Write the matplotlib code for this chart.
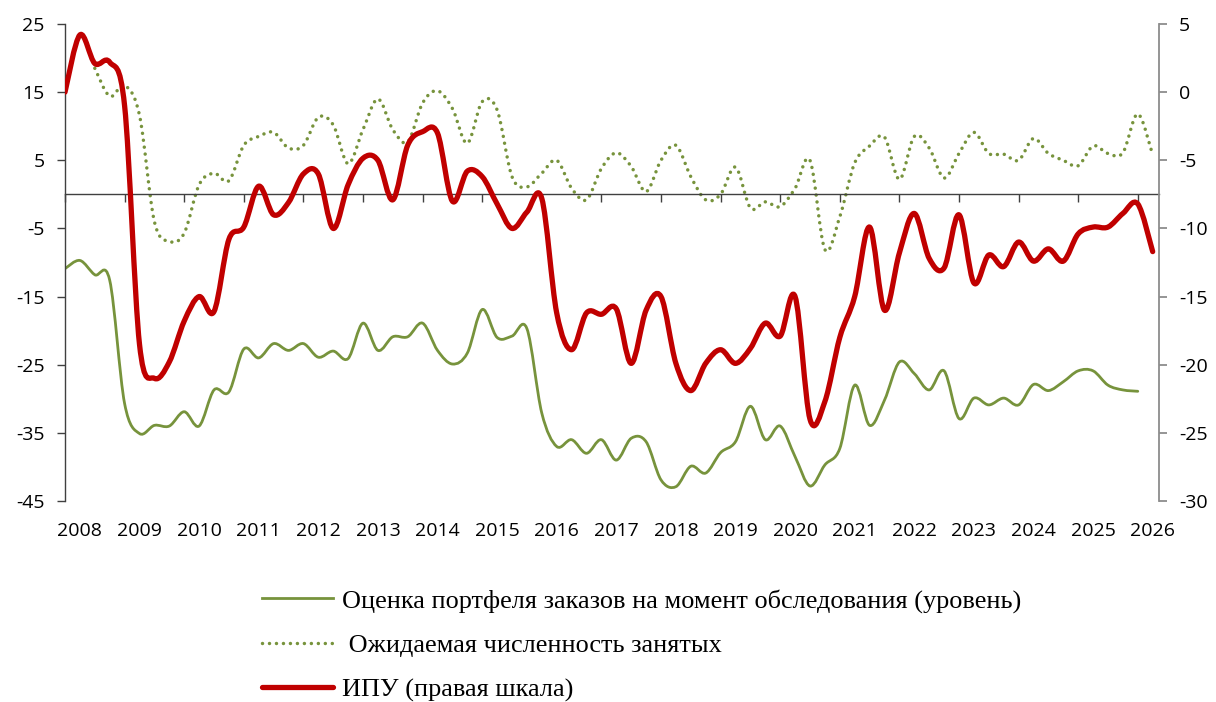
import numpy as np
import matplotlib
matplotlib.use("Agg")
import matplotlib.pyplot as plt
from matplotlib.path import Path
from matplotlib.patches import PathPatch
from matplotlib.lines import Line2D

plt.rcParams['font.family'] = ['Open Sans', 'DejaVu Sans']
plt.rcParams['axes.unicode_minus'] = False

# quarterly readings, first value = 2008 Q1
start_year = 2008.0
step = 0.25

# order book assessment (level), left axis
orders = [-10.9, -9.7, -11.8, -12.6, -30.7, -35.1, -33.9, -34.0, -31.9, -34.0,
          -28.7, -29.0, -22.7, -24.0, -21.9, -22.9, -21.9, -23.9, -23.0, -24.1,
          -18.9, -22.9, -20.9, -20.9, -18.9, -22.9, -24.9, -23.3, -16.9, -21.0,
          -20.8, -19.7, -32.1, -37.0, -36.0, -38.0, -36.0, -39.0, -35.8, -36.3,
          -41.9, -42.9, -39.9, -40.9, -37.9, -36.3, -31.1, -36.0, -34.0, -38.5,
          -42.8, -39.7, -37.3, -28.0, -33.9, -30.2, -24.6, -26.3, -28.7, -25.9,
          -32.9, -29.9, -30.9, -29.9, -30.9, -27.9, -28.8, -27.5, -25.9, -25.9,
          -28.0, -28.7, -28.9]

# expected employment, left axis (series starts at 2008 Q3)
employment_start = 2
employment = [18.5, 14.4, 16.0, 11.6, -4.0, -6.9, -5.7, 1.4, 3.1, 2.0,
              7.2, 8.5, 9.1, 6.8, 7.2, 11.3, 10.2, 4.5, 9.5, 14.0,
              9.5, 7.7, 13.4, 15.2, 12.6, 7.5, 13.6, 12.4, 2.6, 1.1,
              3.1, 5.0, 0.9, -0.8, 3.8, 6.1, 4.1, 0.4, 5.0, 7.2,
              2.6, -0.8, 0.0, 4.0, -2.0, -1.1, -1.8, 0.9, 5.0, -8.1,
              -3.3, 4.6, 7.1, 8.4, 2.2, 8.5, 6.8, 2.4, 6.0, 9.1,
              6.0, 5.9, 5.0, 8.2, 6.0, 5.0, 4.2, 7.1, 6.0, 6.1,
              11.8, 5.8]

# industrial production index, right axis
ipu = [0.0, 4.2, 2.1, 2.2, -1.0, -18.5, -21.0, -19.8, -16.8, -15.0,
       -16.1, -10.8, -9.9, -6.9, -9.0, -8.1, -6.0, -6.0, -10.0, -6.8,
       -4.85, -5.0, -7.9, -3.9, -2.9, -3.0, -8.0, -5.8, -6.2, -8.2,
       -10.0, -8.8, -7.8, -16.2, -18.9, -16.2, -16.3, -15.9, -19.9, -16.0,
       -15.0, -19.9, -21.9, -19.9, -18.9, -19.9, -18.8, -16.95, -17.9, -15.0,
       -24.0, -22.7, -18.0, -15.0, -9.9, -16.0, -11.8, -8.9, -12.2, -12.9,
       -9.0, -14.0, -11.95, -12.8, -11.0, -12.4, -11.5, -12.4, -10.4, -9.9,
       -9.9, -8.9, -8.2, -11.7]

years = list(range(2008, 2027))

labels = ['Оценка портфеля заказов на момент обследования (уровень)',
          ' Ожидаемая численность занятых',
          'ИПУ (правая шкала)']

green = '#77933C'
red = '#C00000'
dots = (0, (0.01, 2.0))


def smooth_path(x, y):
    """Bezier path through the points, like a smoothed Excel line."""
    pts = np.column_stack([x, y])
    n = len(pts)
    verts = [pts[0]]
    codes = [Path.MOVETO]
    for i in range(n - 1):
        p0 = pts[i - 1] if i > 0 else pts[i]
        p1 = pts[i]
        p2 = pts[i + 1]
        p3 = pts[i + 2] if i + 2 < n else pts[i + 1]
        verts += [p1 + (p2 - p0) / 6, p2 - (p3 - p1) / 6, p2]
        codes += [Path.CURVE4] * 3
    return Path(verts, codes)


x_orders = start_year + step * np.arange(len(orders))
x_empl = start_year + step * (employment_start + np.arange(len(employment)))
x_ipu = start_year + step * np.arange(len(ipu))

fig = plt.figure(figsize=(12.16, 7.02), dpi=100)
ax = fig.add_axes([65 / 1216, 1 - 501 / 702, (1159 - 65) / 1216, 477 / 702])
ax2 = ax.twinx()

ax.add_patch(PathPatch(smooth_path(x_orders, orders), fill=False,
                       edgecolor=green, lw=2.0, capstyle='round',
                       joinstyle='round'))
ax.add_patch(PathPatch(smooth_path(x_empl, employment), fill=False,
                       edgecolor=green, lw=2.5, linestyle=dots,
                       capstyle='round'))
ax2.add_patch(PathPatch(smooth_path(x_ipu, ipu), fill=False,
                        edgecolor=red, lw=3.8, capstyle='round',
                        joinstyle='round'))

ax.set_xlim(2008, 2026.356)
ax.set_ylim(-45, 25)
ax2.set_ylim(-30, 5)
ax.set_yticks(np.arange(-45, 26, 10))
ax2.set_yticks(np.arange(-30, 6, 5))

# x axis drawn along zero of the left scale
ax.spines['bottom'].set_position(('data', 0))
ax.spines['bottom'].set_color('#404040')
ax.spines['bottom'].set_linewidth(1.0)
ax.spines['left'].set_color('#404040')
ax.spines['left'].set_linewidth(1.0)
for s in ['top', 'right']:
    ax.spines[s].set_visible(False)
for s in ['top', 'left', 'bottom']:
    ax2.spines[s].set_visible(False)
ax2.spines['right'].set_color('#8C8C8C')
ax2.spines['right'].set_linewidth(1.3)

ax.set_xticks(years)
ax.set_xticklabels([])
ax.tick_params(axis='x', direction='out', length=5.5, width=1.0,
               color='#404040')
ax.tick_params(axis='y', direction='out', length=5.5, width=1.0,
               color='#404040', labelsize=14, pad=9)
ax2.tick_params(axis='y', direction='out', length=5.5, width=1.3,
                color='#8C8C8C', labelsize=14, pad=9)

# year labels sit a quarter to the right of each tick, below the plot
for yr in years:
    ax.text(yr + 0.25, -0.063, str(yr), transform=ax.get_xaxis_transform(),
            ha='center', va='center', fontsize=14)

handles = [Line2D([], [], color=green, lw=2.0),
           Line2D([], [], color=green, lw=2.5, linestyle=dots,
                  dash_capstyle='round'),
           Line2D([], [], color=red, lw=3.8, solid_capstyle='round')]
fig.legend(handles, labels, loc='upper left',
           bbox_to_anchor=(262 / 1216, 1 - 589 / 702), frameon=False,
           prop={'family': 'Liberation Serif', 'size': 18.9},
           handlelength=2.7, handletextpad=0.33, labelspacing=0.8,
           borderpad=0, borderaxespad=0)

plt.savefig('out.png', dpi=100)
